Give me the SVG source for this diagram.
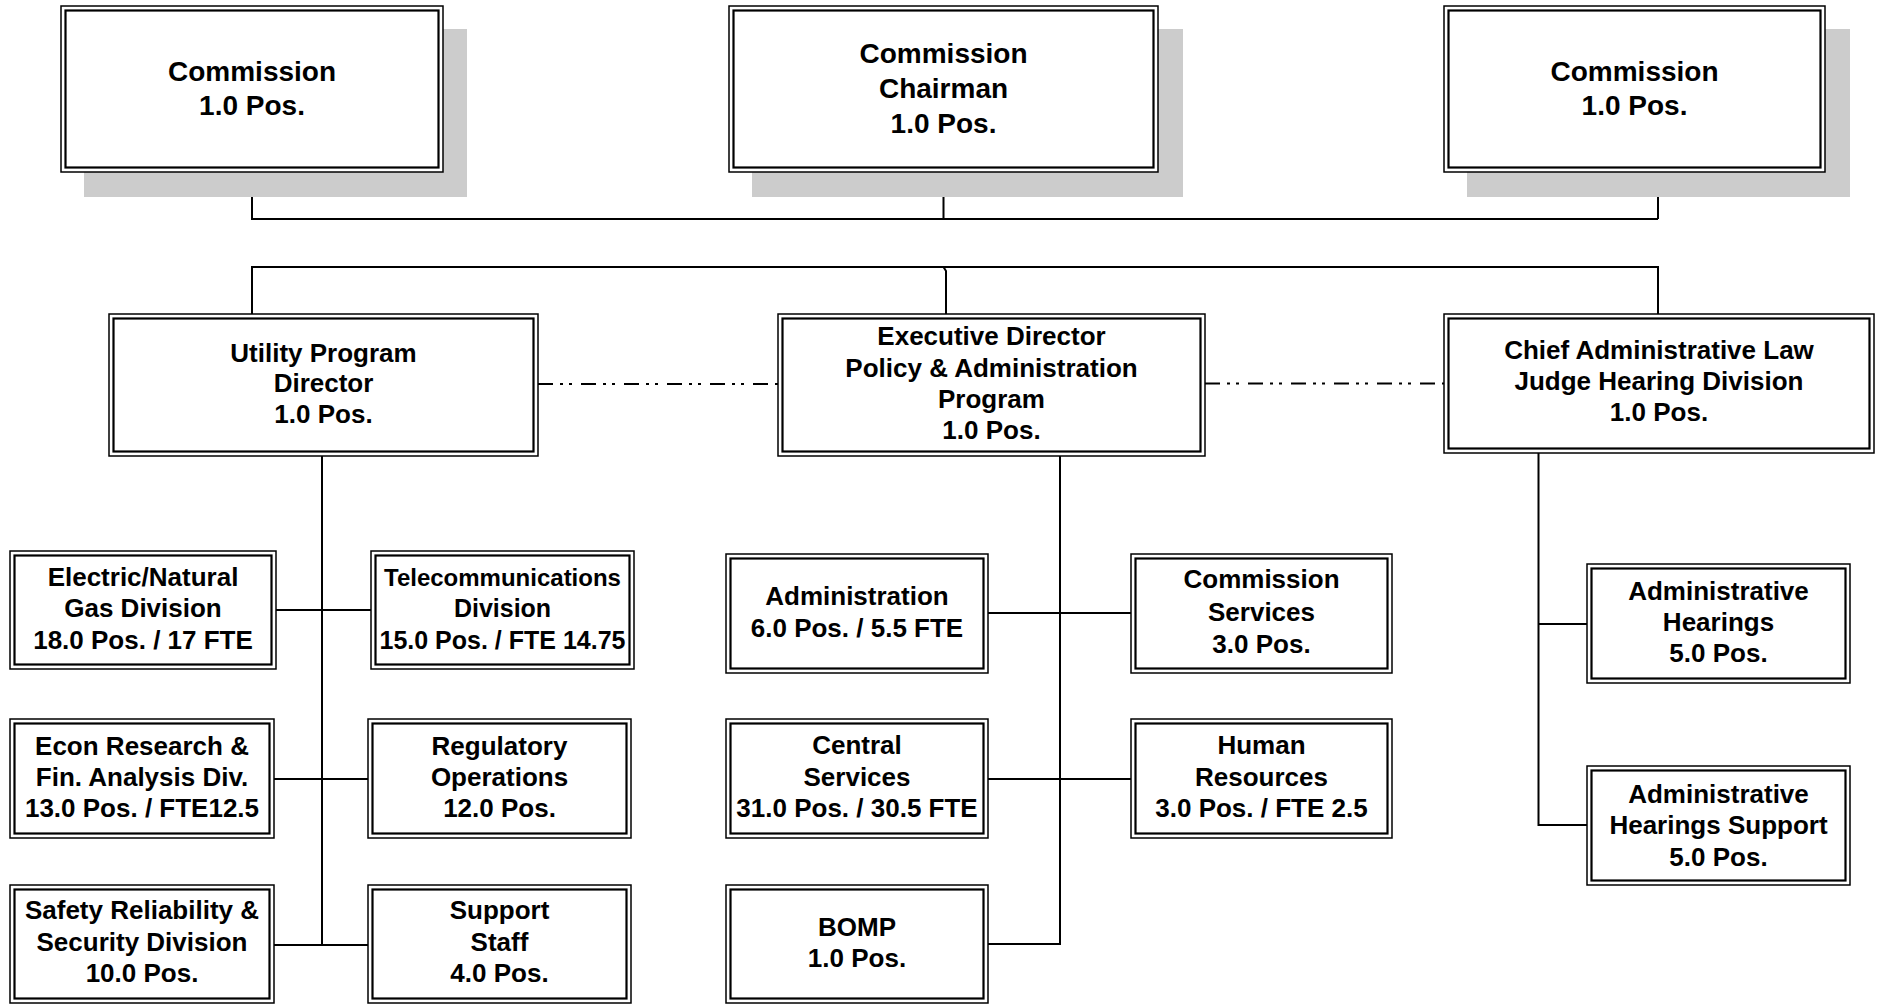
<svg xmlns="http://www.w3.org/2000/svg" width="1881" height="1004" viewBox="0 0 1881 1004">
  <style>
    .bg { fill: #ffffff; }
    .shadow { fill: #cccccc; stroke: none; }
    .outer { fill: #ffffff; stroke: #000000; stroke-width: 1.5; }
    .inner { fill: none; stroke: #000000; stroke-width: 2.2; }
    .wire { fill: none; stroke: #000000; stroke-width: 2; }
    .dashdot { fill: none; stroke: #000000; stroke-width: 2; stroke-dasharray: 15 7 3 6 3 9; }
    text { font-family: "Liberation Sans", Arial, sans-serif; font-weight: bold; fill: #000000; text-anchor: middle; }
    .t28 { font-size: 28px; }
    .t26 { font-size: 26px; }
    .t25 { font-size: 25px; }
    .t24 { font-size: 24px; }
  </style>

  <rect class="bg" x="0" y="0" width="1881" height="1004"/>

  <!-- reporting lines -->
  <g id="connectors">
    <!-- commissioners to the shared bus -->
    <path class="wire" d="M252 172 V219 H1658 M943.5 172 V219 M1658 172 V219"/>
    <!-- bus down to the three programs -->
    <path class="wire" d="M252 314 V267 H1658 V314 M943.5 267 L946 271 V314"/>
    <!-- utility program branches -->
    <path class="wire" d="M322 456 V945 M276 610 H371 M274 779 H368 M274 945 H368"/>
    <!-- executive director branches -->
    <path class="wire" d="M1060 456 V944 H988 M988 613 H1131 M988 779 H1131"/>
    <!-- hearing division branches -->
    <path class="wire" d="M1538.5 453 V825 H1587 M1538.5 624 H1587"/>
    <!-- coordination lines between programs -->
    <path class="dashdot" d="M538 384 H778"/>
    <path class="dashdot" d="M1205 383.5 H1444"/>
  </g>

  <!-- commission level -->
  <g id="commission-left">
    <rect class="shadow" x="84" y="29" width="383" height="168"/>
    <rect class="outer" x="61" y="6" width="382" height="166"/>
    <rect class="inner" x="65.5" y="10.5" width="373" height="157"/>
    <text class="t28" x="252" y="81">Commission</text>
    <text class="t28" x="252" y="115">1.0 Pos.</text>
  </g>

  <g id="commission-chairman">
    <rect class="shadow" x="752" y="29" width="431" height="168"/>
    <rect class="outer" x="729" y="6" width="429" height="166"/>
    <rect class="inner" x="733.5" y="10.5" width="420" height="157"/>
    <text class="t28" x="943.5" y="63">Commission</text>
    <text class="t28" x="943.5" y="98">Chairman</text>
    <text class="t28" x="943.5" y="133">1.0 Pos.</text>
  </g>

  <g id="commission-right">
    <rect class="shadow" x="1467" y="29" width="383" height="168"/>
    <rect class="outer" x="1444" y="6" width="381" height="166"/>
    <rect class="inner" x="1448.5" y="10.5" width="372" height="157"/>
    <text class="t28" x="1634.5" y="81">Commission</text>
    <text class="t28" x="1634.5" y="115">1.0 Pos.</text>
  </g>

  <!-- program level -->
  <g id="utility-program">
    <rect class="outer" x="109" y="314" width="429" height="142"/>
    <rect class="inner" x="113.5" y="318.5" width="420" height="133"/>
    <text class="t26" x="323.5" y="362">Utility Program</text>
    <text class="t26" x="323.5" y="392">Director</text>
    <text class="t26" x="323.5" y="423">1.0 Pos.</text>
  </g>

  <g id="executive-director">
    <rect class="outer" x="778" y="314" width="427" height="142"/>
    <rect class="inner" x="782.5" y="318.5" width="418" height="133"/>
    <text class="t26" x="991.5" y="345">Executive Director</text>
    <text class="t26" x="991.5" y="377">Policy &amp; Administration</text>
    <text class="t26" x="991.5" y="408">Program</text>
    <text class="t26" x="991.5" y="439">1.0 Pos.</text>
  </g>

  <g id="chief-alj">
    <rect class="outer" x="1444" y="314" width="430" height="139"/>
    <rect class="inner" x="1448.5" y="318.5" width="421" height="130"/>
    <text class="t26" x="1659" y="359">Chief Administrative Law</text>
    <text class="t26" x="1659" y="390">Judge Hearing Division</text>
    <text class="t26" x="1659" y="421">1.0 Pos.</text>
  </g>

  <!-- utility program divisions -->
  <g id="electric-gas">
    <rect class="outer" x="10" y="551" width="266" height="118"/>
    <rect class="inner" x="14.5" y="555.5" width="257" height="109"/>
    <text class="t26" x="143" y="586">Electric/Natural</text>
    <text class="t26" x="143" y="617">Gas Division</text>
    <text class="t26" x="143" y="649">18.0 Pos. / 17 FTE</text>
  </g>

  <g id="telecom">
    <rect class="outer" x="371" y="551" width="263" height="118"/>
    <rect class="inner" x="375.5" y="555.5" width="254" height="109"/>
    <text class="t24" x="502.5" y="586">Telecommunications</text>
    <text class="t25" x="502.5" y="617">Division</text>
    <text class="t25" x="502.5" y="649">15.0 Pos. / FTE 14.75</text>
  </g>

  <g id="econ-research">
    <rect class="outer" x="10" y="719" width="264" height="119"/>
    <rect class="inner" x="14.5" y="723.5" width="255" height="110"/>
    <text class="t26" x="142" y="755">Econ Research &amp;</text>
    <text class="t26" x="142" y="786">Fin. Analysis Div.</text>
    <text class="t26" x="142" y="817">13.0 Pos. / FTE12.5</text>
  </g>

  <g id="regulatory-ops">
    <rect class="outer" x="368" y="719" width="263" height="119"/>
    <rect class="inner" x="372.5" y="723.5" width="254" height="110"/>
    <text class="t26" x="499.5" y="755">Regulatory</text>
    <text class="t26" x="499.5" y="786">Operations</text>
    <text class="t26" x="499.5" y="817">12.0 Pos.</text>
  </g>

  <g id="safety-reliability">
    <rect class="outer" x="10" y="885" width="264" height="118"/>
    <rect class="inner" x="14.5" y="889.5" width="255" height="109"/>
    <text class="t26" x="142" y="919">Safety Reliability &amp;</text>
    <text class="t26" x="142" y="951">Security Division</text>
    <text class="t26" x="142" y="982">10.0 Pos.</text>
  </g>

  <g id="support-staff">
    <rect class="outer" x="368" y="885" width="263" height="118"/>
    <rect class="inner" x="372.5" y="889.5" width="254" height="109"/>
    <text class="t26" x="499.5" y="919">Support</text>
    <text class="t26" x="499.5" y="951">Staff</text>
    <text class="t26" x="499.5" y="982">4.0 Pos.</text>
  </g>

  <!-- policy and administration units -->
  <g id="administration">
    <rect class="outer" x="726" y="554" width="262" height="119"/>
    <rect class="inner" x="730.5" y="558.5" width="253" height="110"/>
    <text class="t26" x="857" y="605">Administration</text>
    <text class="t26" x="857" y="637">6.0 Pos. / 5.5 FTE</text>
  </g>

  <g id="commission-services">
    <rect class="outer" x="1131" y="554" width="261" height="119"/>
    <rect class="inner" x="1135.5" y="558.5" width="252" height="110"/>
    <text class="t26" x="1261.5" y="588">Commission</text>
    <text class="t26" x="1261.5" y="621">Services</text>
    <text class="t26" x="1261.5" y="653">3.0 Pos.</text>
  </g>

  <g id="central-services">
    <rect class="outer" x="726" y="719" width="262" height="119"/>
    <rect class="inner" x="730.5" y="723.5" width="253" height="110"/>
    <text class="t26" x="857" y="754">Central</text>
    <text class="t26" x="857" y="786">Services</text>
    <text class="t26" x="857" y="817">31.0 Pos. / 30.5 FTE</text>
  </g>

  <g id="human-resources">
    <rect class="outer" x="1131" y="719" width="261" height="119"/>
    <rect class="inner" x="1135.5" y="723.5" width="252" height="110"/>
    <text class="t26" x="1261.5" y="754">Human</text>
    <text class="t26" x="1261.5" y="786">Resources</text>
    <text class="t26" x="1261.5" y="817">3.0 Pos. / FTE 2.5</text>
  </g>

  <g id="bomp">
    <rect class="outer" x="726" y="885" width="262" height="118"/>
    <rect class="inner" x="730.5" y="889.5" width="253" height="109"/>
    <text class="t26" x="857" y="936">BOMP</text>
    <text class="t26" x="857" y="967">1.0 Pos.</text>
  </g>

  <!-- hearing division units -->
  <g id="administrative-hearings">
    <rect class="outer" x="1587" y="564" width="263" height="119"/>
    <rect class="inner" x="1591.5" y="568.5" width="254" height="110"/>
    <text class="t26" x="1718.5" y="600">Administrative</text>
    <text class="t26" x="1718.5" y="631">Hearings</text>
    <text class="t26" x="1718.5" y="662">5.0 Pos.</text>
  </g>

  <g id="administrative-hearings-support">
    <rect class="outer" x="1587" y="766" width="263" height="119"/>
    <rect class="inner" x="1591.5" y="770.5" width="254" height="110"/>
    <text class="t26" x="1718.5" y="803">Administrative</text>
    <text class="t26" x="1718.5" y="834">Hearings Support</text>
    <text class="t26" x="1718.5" y="866">5.0 Pos.</text>
  </g>
</svg>
